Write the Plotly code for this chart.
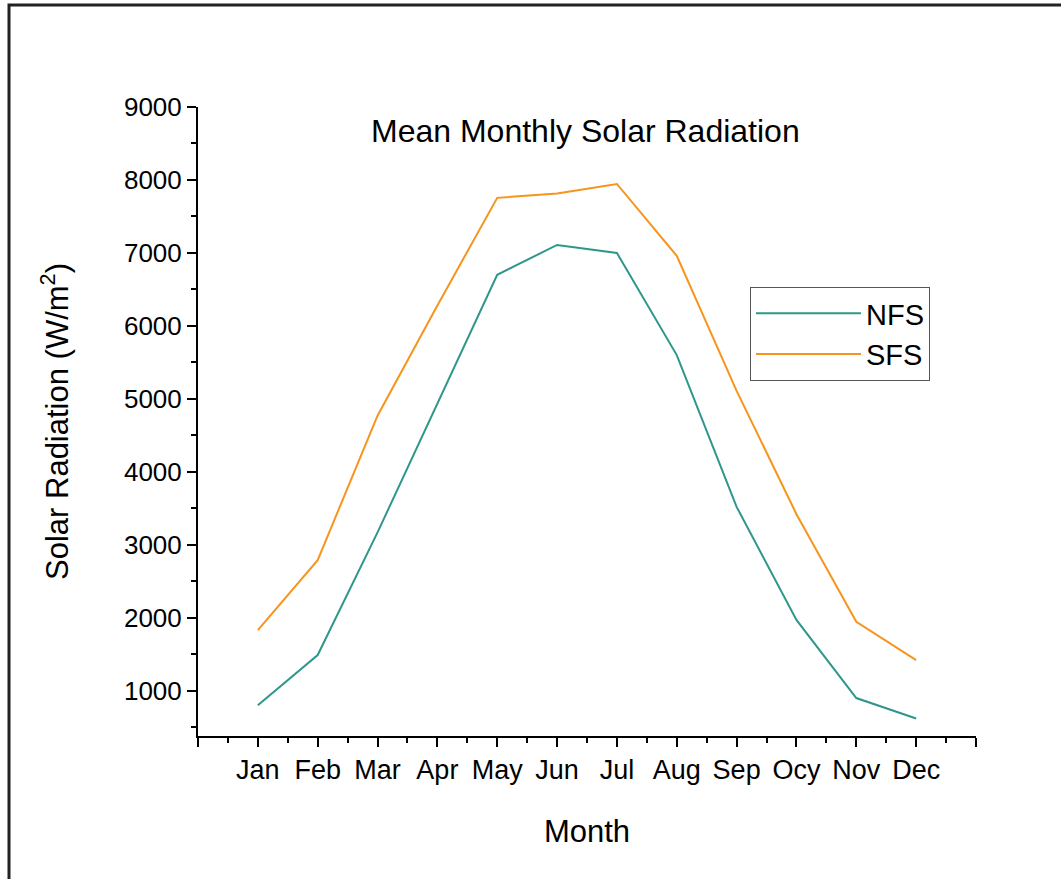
import plotly.graph_objects as go

months = ["Jan", "Feb", "Mar", "Apr", "May", "Jun", "Jul", "Aug", "Sep", "Ocy", "Nov", "Dec"]
month_pos = [1, 2, 3, 4, 5, 6, 7, 8, 9, 10, 11, 12]
nfs = [800, 1490, 3170, 4930, 6700, 7110, 7000, 5600, 3520, 1970, 900, 620]
sfs = [1830, 2790, 4770, 6280, 7755, 7815, 7945, 6960, 5110, 3420, 1945, 1420]
y_ticks = [1000, 2000, 3000, 4000, 5000, 6000, 7000, 8000, 9000]

FONT = "Liberation Sans, Arial, sans-serif"

fig = go.Figure()
fig.add_trace(go.Scatter(x=month_pos, y=nfs, mode="lines", name="NFS",
                         line=dict(color="#2E978A", width=2)))
fig.add_trace(go.Scatter(x=month_pos, y=sfs, mode="lines", name="SFS",
                         line=dict(color="#F7941D", width=2)))

W, H = 1061, 879
L, R, T, B = 198, 85, 107, 143
pw, ph = W - L - R, H - T - B

def px_x(p):
    return (p - L) / pw

def px_y(p):
    return (H - B - p) / ph

fig.update_layout(
    width=W, height=H,
    margin=dict(l=L, r=R, t=T, b=B),
    paper_bgcolor="white", plot_bgcolor="white",
    font=dict(family=FONT, color="black"),
    showlegend=True,
    legend=dict(
        x=px_x(750), y=px_y(287), xanchor="left", yanchor="top",
        bordercolor="#555555", borderwidth=1, bgcolor="white",
        font=dict(size=29, family=FONT), itemwidth=105,
        entrywidth=90, entrywidthmode="pixels",
        tracegroupgap=0,
    ),
    annotations=[dict(
        text="Mean Monthly Solar Radiation", x=px_x(585), y=px_y(131),
        xref="paper", yref="paper", showarrow=False,
        font=dict(size=32, family=FONT, color="black"),
        xanchor="center", yanchor="middle",
    )],
    shapes=[dict(
        type="rect", xref="paper", yref="paper",
        x0=px_x(9), x1=px_x(1068), y0=px_y(886), y1=px_y(5),
        line=dict(color="#222222", width=3), fillcolor="rgba(0,0,0,0)",
        layer="below",
    )],
)

fig.update_xaxes(
    range=[0, 13],
    tickmode="array",
    tickvals=[0] + month_pos + [13],
    ticktext=[""] + months + [""],
    ticks="outside", ticklen=9, tickwidth=2, tickcolor="black",
    showline=True, linecolor="black", linewidth=2,
    showgrid=False, zeroline=False,
    tickfont=dict(size=27, family=FONT),
    minor=dict(tickmode="linear", tick0=0.5, dtick=1, ticks="outside",
               ticklen=5, tickwidth=2, tickcolor="black", showgrid=False),
    title=dict(text="Month", font=dict(size=31, family=FONT), standoff=36),
    automargin=False,
)
fig.update_yaxes(
    range=[380, 9000],
    tickmode="array", tickvals=y_ticks,
    ticks="outside", ticklen=9, tickwidth=2, tickcolor="black",
    showline=True, linecolor="black", linewidth=2,
    showgrid=False, zeroline=False,
    tickfont=dict(size=26, family=FONT),
    minor=dict(tickmode="linear", tick0=500, dtick=1000, ticks="outside",
               ticklen=5, tickwidth=2, tickcolor="black", showgrid=False),
    title=dict(text="Solar Radiation (W/m<sup>2</sup>)", font=dict(size=31, family=FONT), standoff=46),
    automargin=False,
)

fig.write_html("out.html")
